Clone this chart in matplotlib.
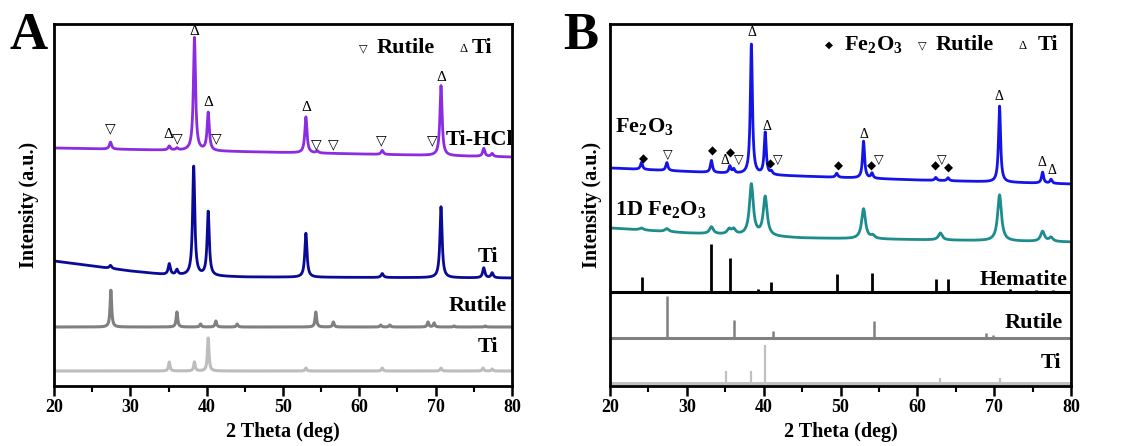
import numpy as np
import matplotlib
matplotlib.use("Agg")
import matplotlib.pyplot as plt

plt.rcParams['font.family'] = ['Liberation Serif', 'DejaVu Sans']
plt.rcParams['font.weight'] = 'bold'
plt.rcParams['axes.labelweight'] = 'bold'
plt.rcParams['mathtext.fontset'] = 'custom'
plt.rcParams['mathtext.rm'] = 'Liberation Serif:bold'
plt.rcParams['mathtext.bf'] = 'Liberation Serif:bold'

# ---- panel A: measured patterns (peak position, height) + background knots
tihcl_pos = [27.4, 35.1, 36.1, 38.4, 40.2, 53.0, 54.5, 63.0, 70.7, 76.3, 77.4]
tihcl_h = [7, 4, 2, 113, 38, 36, 2, 4, 70, 8, 3]
tihcl_bg_x = [20, 40, 60, 80]
tihcl_bg_y = [238, 235, 232, 229]

ti_pos = [27.4, 35.1, 36.1, 38.3, 40.2, 53.0, 63.0, 70.7, 76.3, 77.4]
ti_h = [3, 11, 5, 109, 64, 44, 4, 71, 10, 5]
ti_bg_x = [20, 25, 30, 35, 45, 80]
ti_bg_y = [125, 120, 115, 111, 109, 108]

# reference profiles in panel A
rutA_pos = [27.45, 36.1, 39.2, 41.2, 44.0, 54.3, 56.6, 62.8, 64.0, 69.0, 69.8, 72.4, 76.5]
rutA_h = [37, 15, 3, 6, 3, 15, 5, 2, 2, 5, 4, 1, 1]
rutA_base = 59
tirefA_pos = [35.1, 38.4, 40.2, 53.0, 63.0, 70.7, 76.2, 77.4]
tirefA_h = [9, 9, 33, 3, 3, 3, 3, 2]
tirefA_base = 15

# phase marks on Ti-HCl: (2theta, height, kind)
markA_pos = [27.4, 35.0, 36.1, 38.4, 40.2, 41.2, 53.0, 54.3, 56.6, 62.9, 69.5, 70.7]
markA_y = [258, 251, 248, 354, 283, 248, 278, 242, 242, 246, 246, 308]
markA_kind = ['r', 't', 'r', 't', 't', 'r', 't', 'r', 'r', 'r', 'r', 't']

# ---- panel B: measured patterns
fe_pos = [24.1, 27.4, 33.2, 35.6, 36.1, 38.4, 40.2, 41.0, 49.5, 53.0, 54.1, 62.4, 64.0, 70.7, 76.3, 77.4]
fe_h = [7, 8, 12, 7, 4, 130, 42, 3, 4, 37, 5, 3, 3, 76, 11, 4]
fe_bg_x = [20, 40, 60, 80]
fe_bg_y = [218, 211, 206, 202]

fe1d_pos = [24.1, 27.4, 33.2, 35.5, 36.1, 38.4, 40.2, 54.2, 53.0, 63.0, 70.7, 76.3, 77.4]
fe1d_h = [2, 3, 7, 5, 5, 51, 39, 3, 30, 7, 46, 10, 4]
fe1d_bg_x = [20, 30, 45, 80]
fe1d_bg_y = [158, 153, 148, 144]

# stick references in panel B
hem_pos = [24.1, 33.2, 35.6, 39.3, 40.9, 49.5, 54.1, 62.4, 64.0, 72.0, 75.5, 77.7, 78.8]
hem_h = [15, 48, 34, 3, 10, 18, 19, 13, 13, 3, 2, 2, 1]
hem_base = 94
rutB_pos = [27.45, 36.1, 41.2, 54.3, 69.0, 69.8]
rutB_h = [42, 18, 7, 17, 5, 3]
rutB_base = 48
tiB_pos = [35.1, 38.4, 40.2, 63.0, 70.7]
tiB_h = [12, 12, 38, 5, 5]
tiB_base = 3

markB_pos = [24.3, 27.5, 33.3, 34.9, 35.7, 36.8, 38.5, 40.4, 40.9, 41.8, 49.7, 53.1,
             54.0, 55.0, 62.3, 63.2, 64.0, 70.6, 76.2, 77.5]
markB_y = [227, 231, 235, 225, 233, 226, 353, 259, 222, 226, 220, 251,
           220, 226, 220, 226, 218, 289, 223, 215]
markB_kind = ['f', 'r', 'f', 't', 'f', 'r', 't', 't', 'f', 'r', 'f', 't',
              'f', 'r', 'f', 'r', 'f', 't', 't', 't']

x = np.linspace(20, 80, 3001)


def profile(pos, h, bg_x, bg_y, w):
    y = np.interp(x, bg_x, bg_y)
    for p, a in zip(pos, h):
        y = y + a / (1 + ((x - p) / w) ** 2)
    return y


def mark(ax, xp, yp, kind, size=11):
    if kind == 'r':
        ax.text(xp, yp, '▽', fontsize=size - 1, family='DejaVu Sans',
                ha='center', va='center', fontweight='normal')
    elif kind == 't':
        ax.text(xp, yp, 'Δ', fontsize=size, ha='center', va='center',
                fontweight='normal')
    else:
        ax.text(xp, yp, '◆', fontsize=size - 1.5, family='DejaVu Sans',
                ha='center', va='center')


def setup(ax, pad):
    ax.set_xlim(20, 80)
    ax.set_ylim(0, 362)
    ax.set_yticks([])
    ax.set_xticks(range(20, 81, 10))
    ax.set_xticks(range(25, 80, 10), minor=True)
    ax.tick_params(axis='x', which='major', length=7, width=1.8, labelsize=13, pad=2)
    ax.tick_params(axis='x', which='minor', length=4, width=1.5)
    for s in ax.spines.values():
        s.set_linewidth(2)
    ax.set_xlabel('2 Theta (deg)', fontsize=14.5, labelpad=5)
    ax.set_ylabel('Intensity (a.u.)', fontsize=14.5, labelpad=pad)


fig = plt.figure(figsize=(11.21, 4.46), dpi=100)
axA = fig.add_axes([54 / 1121, 60 / 446, 458 / 1121, 362 / 446])
axB = fig.add_axes([610 / 1121, 60 / 446, 461 / 1121, 362 / 446])

# Panel A
setup(axA, 11)
axA.plot(x, profile(tirefA_pos, tirefA_h, [20, 80], [tirefA_base] * 2, 0.12),
         color='#bdbdbd', lw=2.2)
axA.plot(x, profile(rutA_pos, rutA_h, [20, 80], [rutA_base] * 2, 0.12),
         color='#808080', lw=2.2)
axA.plot(x, profile(ti_pos, ti_h, ti_bg_x, ti_bg_y, 0.17), color='#0a0a96', lw=2)
axA.plot(x, profile(tihcl_pos, tihcl_h, tihcl_bg_x, tihcl_bg_y, 0.17),
         color='#8b2be2', lw=2)
for xp, yp, k in zip(markA_pos, markA_y, markA_kind):
    mark(axA, xp, yp, k)
axA.text(71.3, 246, 'Ti-HCl', fontsize=16, va='center', ha='left')
axA.text(76.8, 129, 'Ti', fontsize=16, va='center', ha='center')
axA.text(79.3, 80, 'Rutile', fontsize=16, va='center', ha='right')
axA.text(76.8, 39, 'Ti', fontsize=16, va='center', ha='center')
mark(axA, 60.5, 338, 'r', size=9)
axA.text(62.3, 338, 'Rutile', fontsize=16, va='center', ha='left')
mark(axA, 73.6, 337, 't', size=9)
axA.text(74.7, 338, 'Ti', fontsize=16, va='center', ha='left')
fig.text(10 / 1121, 1 - 36 / 446, 'A', fontsize=38, va='center', ha='left')

# Panel B
setup(axB, 6)
axB.hlines(tiB_base, 20, 80, color='#c0c0c0', lw=2.2)
axB.vlines(tiB_pos, tiB_base, np.add(tiB_base, tiB_h), color='#c0c0c0', lw=1.6)
axB.hlines(rutB_base, 20, 80, color='#808080', lw=2.2)
axB.vlines(rutB_pos, rutB_base, np.add(rutB_base, rutB_h), color='#808080', lw=1.8)
axB.hlines(hem_base, 20, 80, color='black', lw=2.2)
axB.vlines(hem_pos, hem_base, np.add(hem_base, hem_h), color='black', lw=2)
axB.plot(x, profile(fe1d_pos, fe1d_h, fe1d_bg_x, fe1d_bg_y, 0.3), color='#1c8c8c', lw=2)
axB.plot(x, profile(fe_pos, fe_h, fe_bg_x, fe_bg_y, 0.16), color='#1414e6', lw=2)
for xp, yp, k in zip(markB_pos, markB_y, markB_kind):
    mark(axB, xp, yp, k, size=10)
axB.text(20.6, 259, r'Fe$_2$O$_3$', fontsize=16, va='center', ha='left')
axB.text(20.6, 176, r'1D Fe$_2$O$_3$', fontsize=16, va='center', ha='left')
axB.text(79.5, 106, 'Hematite', fontsize=16, va='center', ha='right')
axB.text(79.0, 63, 'Rutile', fontsize=16, va='center', ha='right')
axB.text(78.7, 23, 'Ti', fontsize=16, va='center', ha='right')
mark(axB, 48.5, 341, 'f', size=9)
axB.text(50.5, 341, r'Fe$_2$O$_3$', fontsize=16, va='center', ha='left')
mark(axB, 60.6, 341, 'r', size=9)
axB.text(62.4, 341, 'Rutile', fontsize=16, va='center', ha='left')
mark(axB, 73.75, 340, 't', size=9)
axB.text(75.6, 341, 'Ti', fontsize=16, va='center', ha='left')
fig.text(563 / 1121, 1 - 36 / 446, 'B', fontsize=38, va='center', ha='left')

fig.savefig('out.png', dpi=100)
